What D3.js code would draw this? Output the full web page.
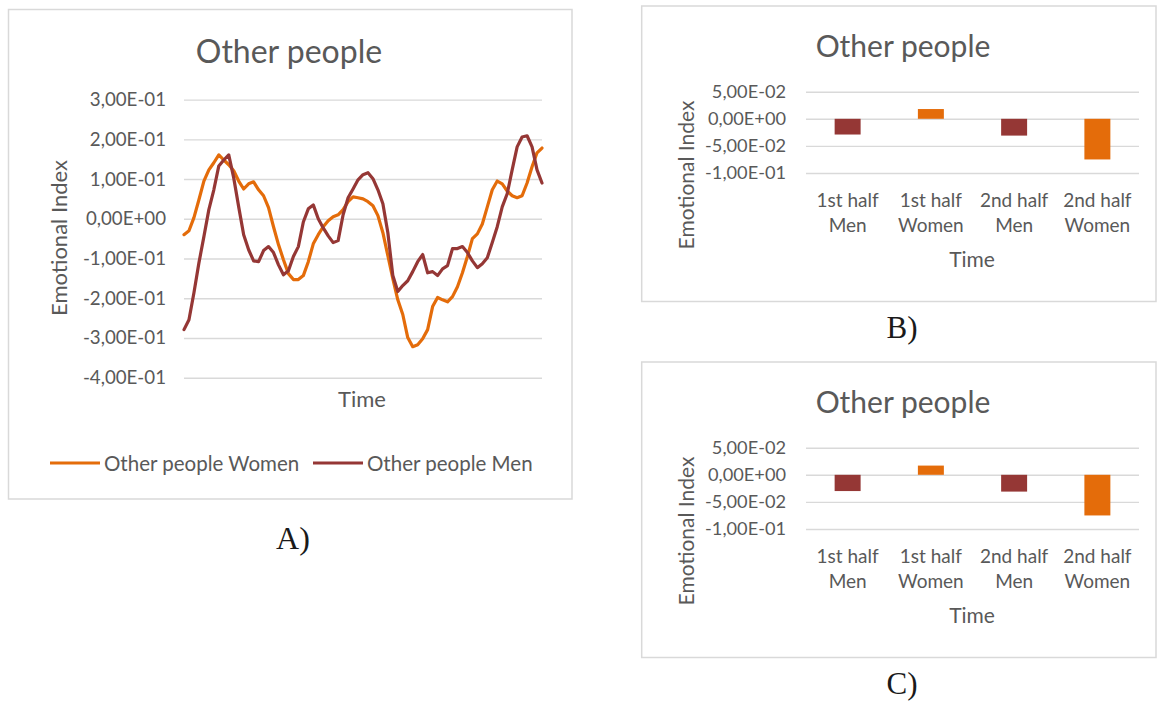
<!DOCTYPE html>
<html>
<head>
<meta charset="utf-8">
<script src="https://cdn.jsdelivr.net/npm/d3@7"></script>
<style>
  body { margin: 0; background: #ffffff; }
  svg text { font-family: Lato, "Open Sans", sans-serif; fill: #595959; }
  .letter { font-family: "Liberation Serif", "Times New Roman", serif; fill: #1a1a1a; }
</style>
</head>
<body>
<svg id="fig" width="1157" height="704"></svg>
<script>
// Emotional index over time for "Other people", women and men (line chart)
const womenSeries = [
  -0.040, -0.030, 0.003, 0.048, 0.095, 0.123, 0.141, 0.161, 0.148, 0.136,
  0.121, 0.095, 0.075, 0.088, 0.093, 0.073, 0.058, 0.028, -0.020, -0.065,
  -0.103, -0.138, -0.153, -0.153, -0.143, -0.108, -0.063, -0.040, -0.020, -0.005,
  0.005, 0.010, 0.023, 0.043, 0.055, 0.053, 0.050, 0.043, 0.033, 0.008,
  -0.035, -0.093, -0.151, -0.204, -0.241, -0.299, -0.322, -0.317, -0.302, -0.279,
  -0.221, -0.198, -0.204, -0.209, -0.196, -0.171, -0.136, -0.095, -0.050, -0.038,
  -0.013, 0.030, 0.073, 0.095, 0.088, 0.070, 0.058, 0.053, 0.058, 0.090,
  0.131, 0.166, 0.178
];
const menSeries = [
  -0.279, -0.254, -0.186, -0.111, -0.045, 0.023, 0.073, 0.133, 0.148, 0.161,
  0.103, 0.030, -0.040, -0.078, -0.106, -0.108, -0.080, -0.070, -0.085, -0.116,
  -0.141, -0.131, -0.095, -0.070, -0.008, 0.025, 0.035, 0.000, -0.023, -0.043,
  -0.060, -0.055, 0.010, 0.053, 0.075, 0.098, 0.111, 0.116, 0.101, 0.073,
  0.038, -0.035, -0.143, -0.183, -0.168, -0.156, -0.133, -0.108, -0.090, -0.136,
  -0.133, -0.143, -0.126, -0.118, -0.075, -0.075, -0.070, -0.085, -0.106, -0.123,
  -0.113, -0.098, -0.060, -0.020, 0.030, 0.063, 0.123, 0.181, 0.206, 0.209,
  0.181, 0.123, 0.090
];
const lineTicks = [0.3, 0.2, 0.1, 0, -0.1, -0.2, -0.3, -0.4];
const seriesNames = ["Other people Women", "Other people Men"];

// Half-period averages (bar charts B and C)
const barCategories = ["1st half|Men", "1st half|Women", "2nd half|Men", "2nd half|Women"];
const barValuesB = [-0.029, 0.018, -0.031, -0.075];
const barValuesC = [-0.030, 0.017, -0.031, -0.075];
const barTicks = [0.05, 0, -0.05, -0.1];

const ORANGE = "#e46c0a";
const MAROON = "#953735";
const GRID = "#d9d9d9";
const barColors = [MAROON, ORANGE, MAROON, ORANGE];

// Excel-style scientific label: 3,00E-01
function sci(v) {
  const [m, e] = v.toExponential(2).split("e");
  const n = Math.abs(+e);
  return m.replace(".", ",") + "E" + (+e < 0 ? "-" : "+") + (n < 10 ? "0" + n : n);
}

const svg = d3.select("#fig");

function frame(x0, y0, x1, y1) {
  svg.append("rect")
    .attr("x", x0).attr("y", y0)
    .attr("width", x1 - x0).attr("height", y1 - y0)
    .attr("fill", "#fff").attr("stroke", GRID).attr("stroke-width", 1.5);
}

function gridAxis(g, y, ticks, left, right, pad, size) {
  const ax = d3.axisLeft(y).tickValues(ticks).tickFormat(sci)
    .tickSize(-(right - left)).tickPadding(pad);
  g.attr("transform", `translate(${left},0)`).call(ax);
  g.select(".domain").remove();
  g.selectAll(".tick line").attr("stroke", GRID).attr("stroke-width", 1.4);
  g.selectAll(".tick text").attr("fill", "#595959")
    .style("font-size", size + "px").style("font-family", "Lato, sans-serif");
}

// ---------- Panel A: line chart ----------
(function () {
  frame(8.5, 9.5, 572, 499);
  const L = 184, R = 542;
  const y = d3.scaleLinear().domain([-0.4, 0.3]).range([377.7, 99.6]);
  const x = d3.scaleLinear().domain([0, womenSeries.length - 1]).range([L, R]);

  svg.append("text").attr("x", 289).attr("y", 50)
    .attr("text-anchor", "middle").attr("dominant-baseline", "central")
    .style("font-size", "32px").text("Other people");

  gridAxis(svg.append("g"), y, lineTicks, L, R, 18, 18.7);

  const line = d3.line().x((d, i) => x(i)).y(d => y(d)).curve(d3.curveLinear);
  svg.append("path").datum(womenSeries).attr("d", line)
    .attr("fill", "none").attr("stroke", ORANGE).attr("stroke-width", 3.2)
    .attr("stroke-linejoin", "round").attr("stroke-linecap", "round");
  svg.append("path").datum(menSeries).attr("d", line)
    .attr("fill", "none").attr("stroke", MAROON).attr("stroke-width", 3.2)
    .attr("stroke-linejoin", "round").attr("stroke-linecap", "round");

  svg.append("text").attr("x", 362).attr("y", 398)
    .attr("text-anchor", "middle").attr("dominant-baseline", "central")
    .style("font-size", "22px").text("Time");
  svg.append("text").attr("transform", "translate(58,238) rotate(-90)")
    .attr("text-anchor", "middle").attr("dominant-baseline", "central")
    .style("font-size", "22px").text("Emotional Index");

  // legend
  const legend = [
    { name: seriesNames[0], color: ORANGE, x: 50 },
    { name: seriesNames[1], color: MAROON, x: 313 }
  ];
  const lg = svg.append("g").selectAll("g").data(legend).join("g")
    .attr("transform", d => `translate(${d.x},463)`);
  lg.append("line").attr("x1", 0).attr("x2", 50).attr("y1", 0).attr("y2", 0)
    .attr("stroke", d => d.color).attr("stroke-width", 3.2);
  lg.append("text").attr("x", 54).attr("y", 0).attr("dominant-baseline", "central")
    .style("font-size", "20.5px").text(d => d.name);

  svg.append("text").attr("class", "letter").attr("x", 293).attr("y", 538)
    .attr("text-anchor", "middle").attr("dominant-baseline", "central")
    .style("font-size", "32px").text("A)");
})();

// ---------- Panels B and C: bar charts ----------
function barPanel(dy, values, letter) {
  frame(641.7, 6 + dy, 1156, 301.5 + dy);
  const L = 806, R = 1139;
  const y = d3.scaleLinear().domain([-0.1, 0.05]).range([173 + dy, 91.7 + dy]);
  const x = d3.scaleBand().domain(barCategories).range([L, R]).padding(0);

  svg.append("text").attr("x", 903).attr("y", 45 + dy)
    .attr("text-anchor", "middle").attr("dominant-baseline", "central")
    .style("font-size", "30px").text("Other people");

  gridAxis(svg.append("g"), y, barTicks, L, R, 20, 18.2);

  const bw = x.bandwidth() * 0.312;
  svg.append("g").selectAll("rect").data(barCategories).join("rect")
    .attr("x", d => x(d) + (x.bandwidth() - bw) / 2)
    .attr("width", bw)
    .attr("y", (d, i) => y(Math.max(0, values[i])))
    .attr("height", (d, i) => Math.abs(y(values[i]) - y(0)))
    .attr("fill", (d, i) => barColors[i]);

  // category labels on two lines
  const gx = svg.append("g").attr("transform", `translate(0,${186 + dy})`)
    .call(d3.axisBottom(x).tickSize(0).tickPadding(0));
  gx.select(".domain").remove();
  gx.selectAll(".tick text").each(function (d) {
    const t = d3.select(this).text("").attr("y", 0).attr("dy", null)
      .style("font-size", "19px").style("font-family", "Lato, sans-serif")
      .attr("fill", "#595959");
    d.split("|").forEach((part, k) => {
      t.append("tspan").attr("x", 0).attr("y", 13 + k * 25)
        .attr("dominant-baseline", "central").text(part);
    });
  });

  svg.append("text").attr("x", 972).attr("y", 258 + dy)
    .attr("text-anchor", "middle").attr("dominant-baseline", "central")
    .style("font-size", "21px").text("Time");
  svg.append("text").attr("transform", `translate(685,${175 + dy}) rotate(-90)`)
    .attr("text-anchor", "middle").attr("dominant-baseline", "central")
    .style("font-size", "21px").text("Emotional Index");

  svg.append("text").attr("class", "letter").attr("x", 902).attr("y", 327 + dy)
    .attr("text-anchor", "middle").attr("dominant-baseline", "central")
    .style("font-size", "31px").text(letter);
}

barPanel(0, barValuesB, "B)");
barPanel(356, barValuesC, "C)");
</script>
</body>
</html>
